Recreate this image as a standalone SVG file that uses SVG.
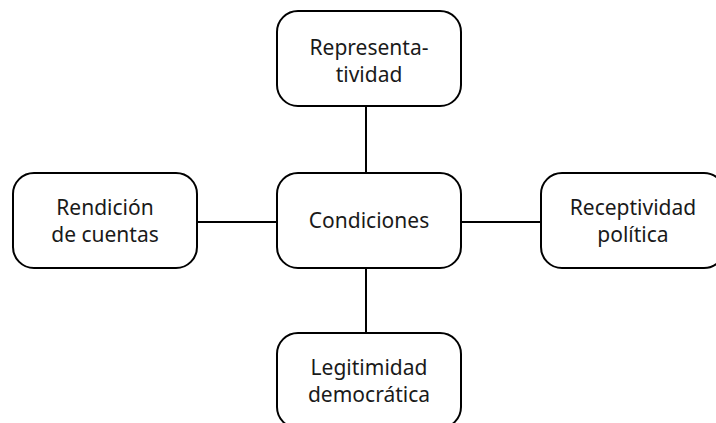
<svg xmlns="http://www.w3.org/2000/svg" width="716" height="423" viewBox="0 0 716 423">
<style>
.box{fill:#fff;stroke:#000;stroke-width:2}
.ln{stroke:#000;stroke-width:2;fill:none}
text{font-family:"Noto Sans","Open Sans","DejaVu Sans",sans-serif;font-size:21px;fill:#1a1a1a;text-anchor:middle}
</style>
<rect width="716" height="423" fill="#fff"/>
<g id="connectors">
<line class="ln" x1="366" y1="106" x2="366" y2="173"/>
<line class="ln" x1="366" y1="268" x2="366" y2="333"/>
<line class="ln" x1="197" y1="222" x2="277" y2="222"/>
<line class="ln" x1="461" y1="222" x2="541" y2="222"/>
</g>
<g id="representatividad">
<rect class="box" x="277" y="11" width="184" height="95" rx="21"/>
<text x="369" y="55">Representa-</text>
<text x="369" y="82">tividad</text>
</g>
<g id="condiciones">
<rect class="box" x="277" y="173" width="184" height="95" rx="21"/>
<text x="369" y="228">Condiciones</text>
</g>
<g id="rendicion">
<rect class="box" x="13" y="173" width="184" height="95" rx="21"/>
<text x="105" y="215">Rendición</text>
<text x="105" y="242">de cuentas</text>
</g>
<g id="receptividad">
<rect class="box" x="541" y="173" width="184" height="95" rx="21"/>
<text x="633" y="215">Receptividad</text>
<text x="633" y="242">política</text>
</g>
<g id="legitimidad">
<rect class="box" x="277" y="333" width="184" height="95" rx="21"/>
<text x="369" y="375">Legitimidad</text>
<text x="369" y="402">democrática</text>
</g>
</svg>
